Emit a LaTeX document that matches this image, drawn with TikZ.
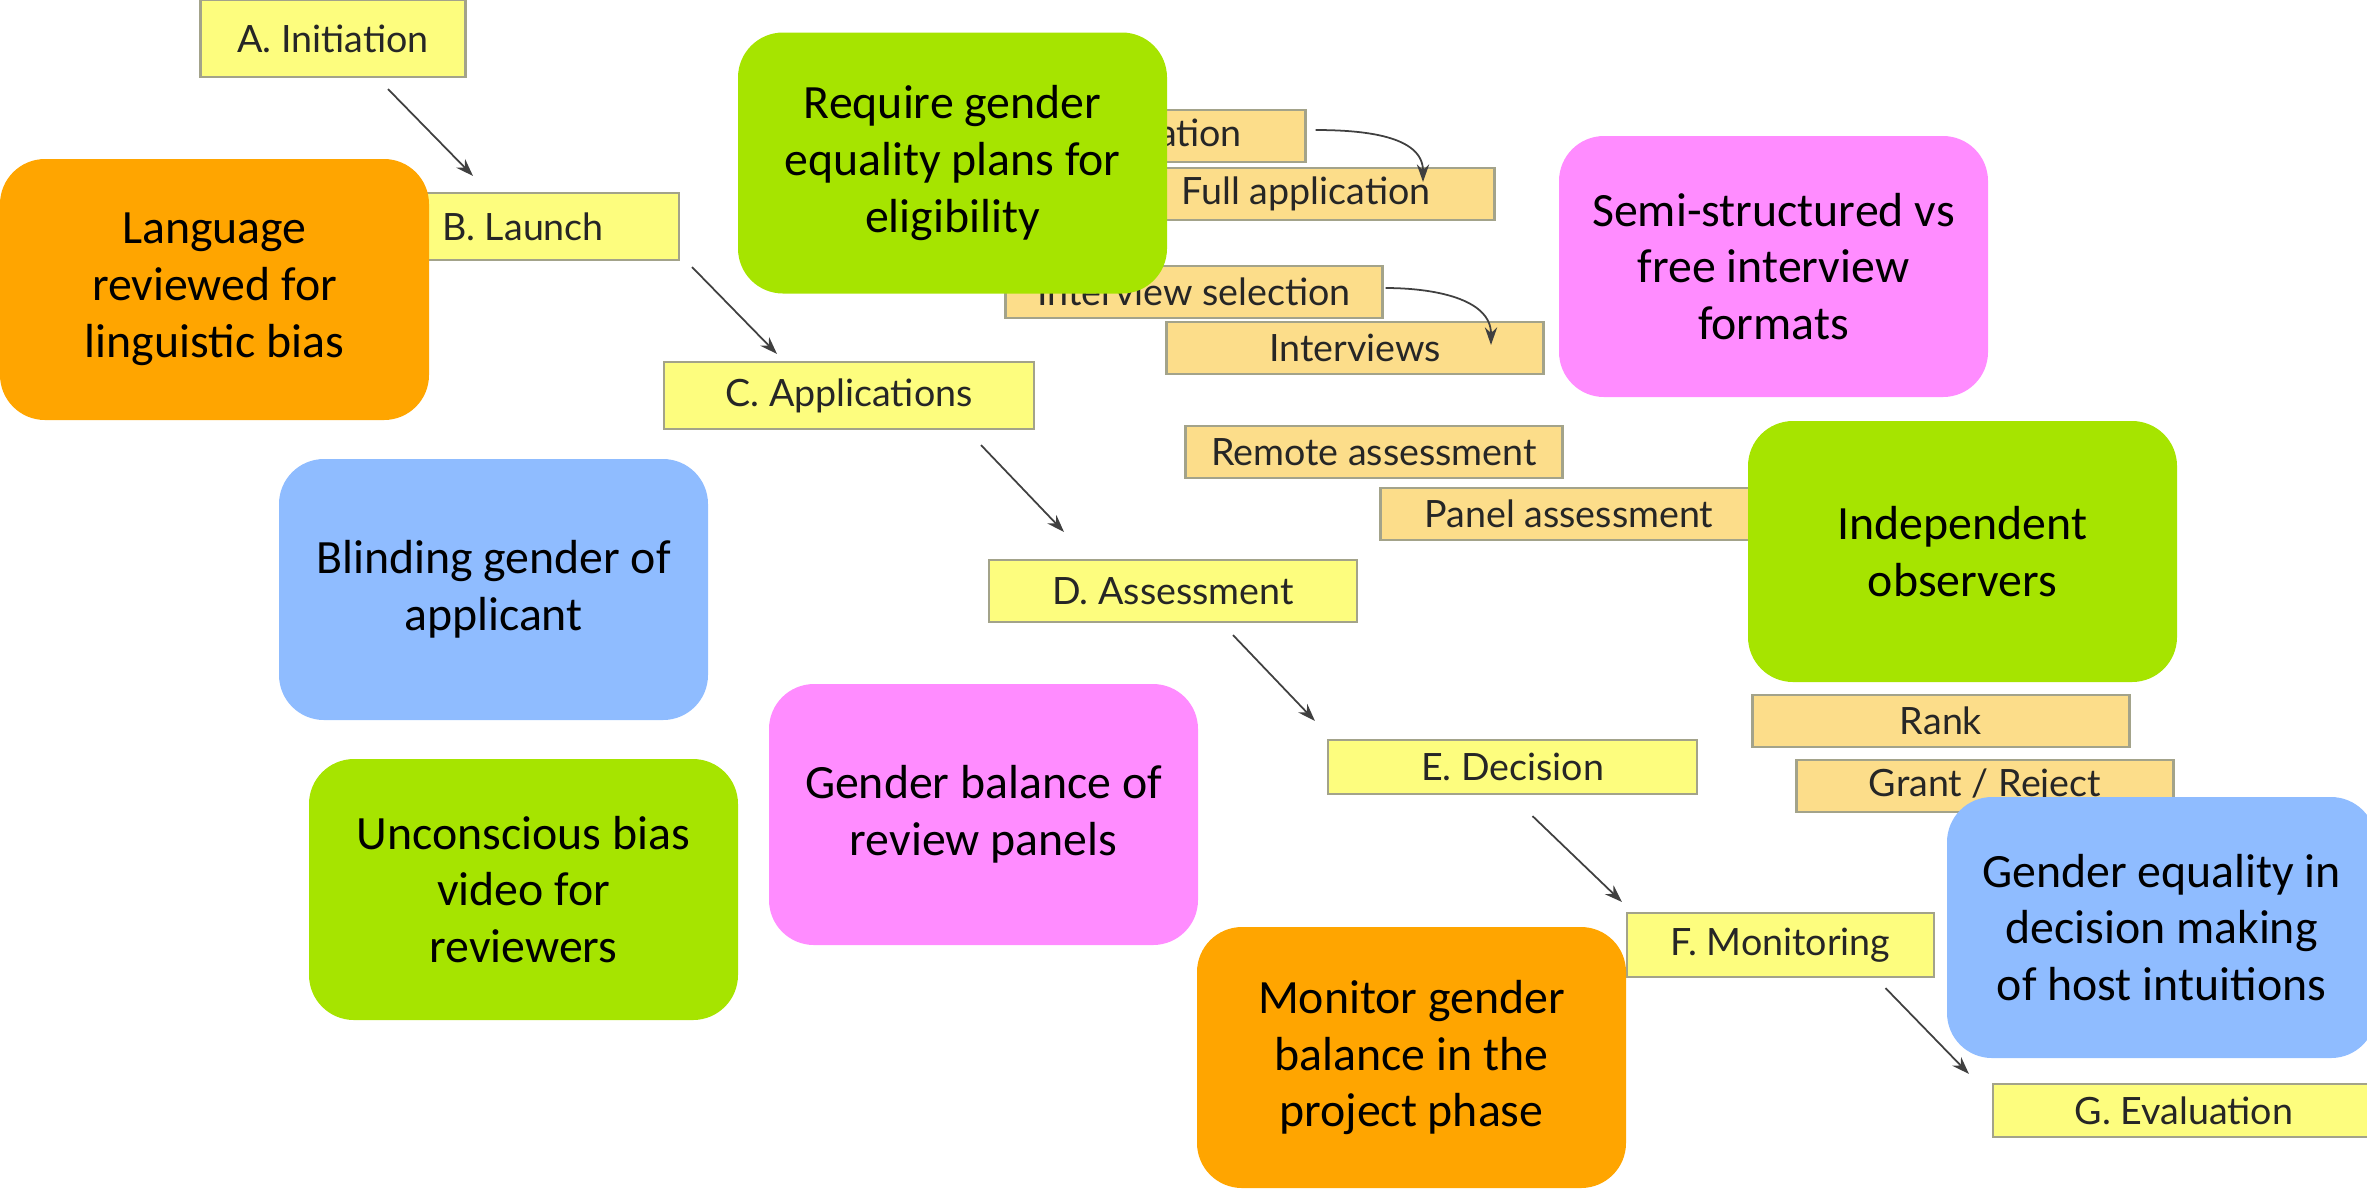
\documentclass[tikz,border=0pt]{standalone}
\usepackage{fontspec}
\setmainfont{Carlito}
\newfontfamily\stagefont{Lato}
\usetikzlibrary{arrows.meta}

\definecolor{stageyellow}{HTML}{FDFD7E}
\definecolor{subtan}{HTML}{FCDD8A}
\definecolor{edgegray}{HTML}{A3A38A}
\definecolor{boxorange}{HTML}{FFA500}
\definecolor{boxgreen}{HTML}{A6E400}
\definecolor{boxpink}{HTML}{FF8CFF}
\definecolor{boxblue}{HTML}{8FBCFF}

\begin{document}
\begin{tikzpicture}[
    stage/.style={draw=edgegray, fill=stageyellow, line width=0.6pt, minimum height=0.62cm,
        inner sep=0pt, text=black!85, font=\stagefont\fontsize{10.7}{12}\selectfont},
    substage/.style={stage, fill=subtan, minimum width=3.77cm, minimum height=0.52cm},
    idea/.style={rounded corners=0.45cm, minimum width=4.29cm, minimum height=2.61cm,
        inner sep=0pt, align=center, font=\fontsize{13.6}{16.2}\selectfont},
    flow/.style={draw=black!75, line width=0.5pt, -{Stealth[length=5pt,width=3.5pt]}}
]
    \useasboundingbox (0,0) rectangle (23.67,-11.88);

    % Stages
    \node[stage, minimum width=2.65cm, minimum height=0.77cm] (A) at (3.33,-0.385) {A. Initiation};
    \node[stage, minimum width=3.12cm, minimum height=0.67cm] (B) at (5.23,-2.265) {B. Launch};
    \node[stage, minimum width=3.70cm, minimum height=0.67cm] (C) at (8.49,-3.955) {C. Applications};
    \node[stage, minimum width=3.68cm] (D) at (11.73,-5.91) {D. Assessment};
    \node[stage, minimum width=3.69cm, minimum height=0.54cm] (E) at (15.125,-7.67) {E. Decision};
    \node[stage, minimum width=3.07cm, minimum height=0.64cm] (F) at (17.805,-9.45) {F. Monitoring};
    \node[stage, minimum width=3.82cm, minimum height=0.53cm] (G) at (21.84,-11.105) {G. Evaluation};

    % Sub-steps
    \foreach \name/\x/\y/\txt in {pre/11.17/-1.36/Pre-application, full/13.06/-1.94/Full application,
        isel/11.94/-2.92/Interview selection, intv/13.55/-3.48/Interviews,
        remote/13.74/-4.52/Remote assessment, panel/15.69/-5.14/Panel assessment,
        rank/19.41/-7.21/Rank, grant/19.85/-7.86/{Grant / Reject}} {
        \node[substage] (\name) at (\x,\y) {\txt};
    }

    % Flow between stages
    \draw[flow] ([xshift=0.55cm,yshift=-0.11cm]A.south) -- ([xshift=-0.50cm,yshift=0.16cm]B.north);
    \draw[flow] ([xshift=0.12cm,yshift=-0.06cm]B.south east) -- ([xshift=-0.72cm,yshift=0.07cm]C.north);
    \draw[flow] ([xshift=1.32cm,yshift=-0.15cm]C.south) -- ([xshift=-1.09cm,yshift=0.27cm]D.north);
    \draw[flow] ([xshift=0.60cm,yshift=-0.12cm]D.south) -- ([xshift=-0.12cm,yshift=0.18cm]E.north west);
    \draw[flow] ([xshift=0.20cm,yshift=-0.21cm]E.south) -- ([xshift=-0.04cm,yshift=0.10cm]F.north west);
    \draw[flow] ([xshift=1.05cm,yshift=-0.10cm]F.south) -- ([xshift=-0.23cm,yshift=0.09cm]G.north west);
    \draw[flow] ([xshift=0.09cm,yshift=0.06cm]pre.east) to[out=0,in=90] ([xshift=1.17cm,yshift=-0.15cm]full.north);
    \draw[flow] ([xshift=0.02cm,yshift=0.04cm]isel.east) to[out=0,in=90] ([xshift=1.36cm,yshift=-0.24cm]intv.north);

    % Measures
    \node[idea, fill=boxorange] (lang) at (2.145,-2.895) {Language\\reviewed for\\linguistic bias};
    \node[idea, fill=boxgreen] (elig) at (9.525,-1.63) {Require gender\\equality plans for\\eligibility};
    \node[idea, fill=boxpink] (semi) at (17.735,-2.665) {Semi-structured vs\\free interview\\formats};
    \node[idea, fill=boxblue] (blind) at (4.935,-5.895) {Blinding gender of\\applicant};
    \node[idea, fill=boxgreen] (observ) at (19.625,-5.515) {Independent\\observers};
    \node[idea, fill=boxpink] (panels) at (9.835,-8.145) {Gender balance of\\review panels};
    \node[idea, fill=boxgreen] (video) at (5.235,-8.895) {Unconscious bias\\video for\\reviewers};
    \node[idea, fill=boxorange] (monitor) at (14.115,-10.575) {Monitor gender\\balance in the\\project phase};
    \node[idea, fill=boxblue] (host) at (21.615,-9.275) {Gender equality in\\decision making\\of host intuitions};
\end{tikzpicture}
\end{document}
